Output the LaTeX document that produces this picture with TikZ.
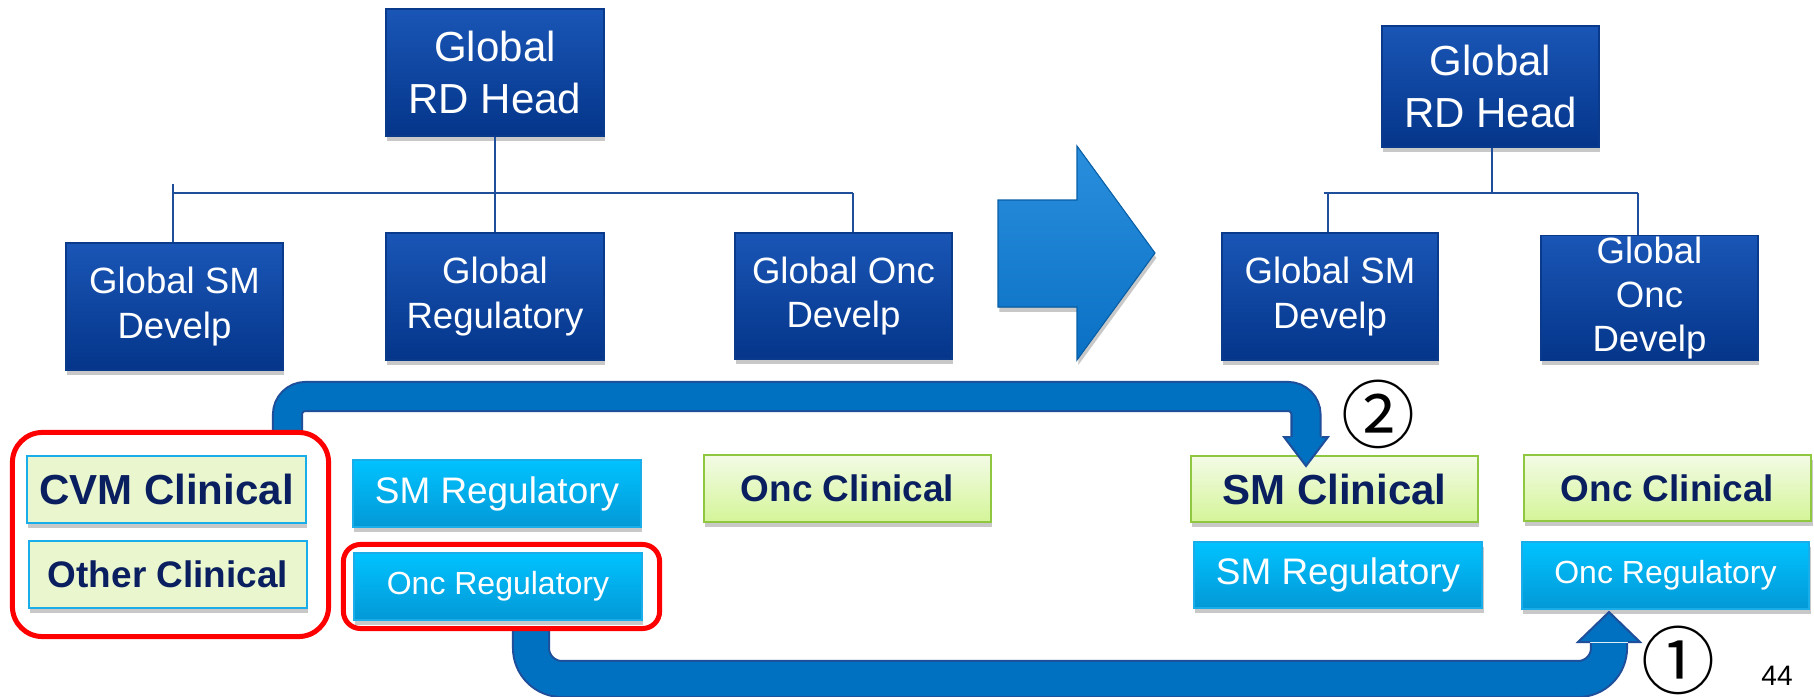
\documentclass[tikz,border=0pt]{standalone}
\usepackage{fontspec}
\setmainfont{Liberation Sans}
\newfontfamily\cjkfont{Noto Sans CJK JP}
\usetikzlibrary{shadows}
\definecolor{dkA}{HTML}{1A56B6}
\definecolor{dkB}{HTML}{04358A}
\definecolor{dkE}{HTML}{0A3A8C}
\definecolor{cyA}{HTML}{00C3FF}
\definecolor{cyB}{HTML}{0398D6}
\definecolor{cyE}{HTML}{19AEEA}
\definecolor{grA}{HTML}{F3FBE6}
\definecolor{grB}{HTML}{D4F598}
\definecolor{grE}{HTML}{8FC740}
\definecolor{pale}{HTML}{EAF6CE}
\definecolor{navy}{HTML}{0A1F5F}
\definecolor{band}{HTML}{0070C0}
\definecolor{bandE}{HTML}{1F4E9A}
\definecolor{linec}{HTML}{1F4E9A}
\definecolor{arrA}{HTML}{2A8FDD}
\definecolor{arrB}{HTML}{0A70C4}
\newcommand\headfont{\fontsize{11.95pt}{14.8pt}\selectfont}
\newcommand\devfont{\fontsize{10.4pt}{12.6pt}\selectfont}
\newcommand\bigbold{\fontsize{11.95pt}{14pt}\selectfont\bfseries}
\newcommand\midbold{\fontsize{10.5pt}{12pt}\selectfont\bfseries}
\newcommand\regfont{\fontsize{10.5pt}{12pt}\selectfont}
\newcommand\oncregfont{\fontsize{9.1pt}{11pt}\selectfont}
\begin{document}
\begin{tikzpicture}[x=0.01cm,y=-0.01cm,
  shad/.style={drop shadow={shadow xshift=0.4pt,shadow yshift=-1.4pt,opacity=0.3,fill=black!70}},
  dkbox/.style={shad,top color=dkA,bottom color=dkB,draw=dkE,line width=0.4pt,inner sep=0pt,align=center,text=white},
  cybox/.style={shad,top color=cyA,bottom color=cyB,draw=cyE,line width=0.6pt,inner sep=0pt,align=center,text=white},
  grbox/.style={shad,top color=grA,bottom color=grB,draw=grE,line width=0.7pt,inner sep=0pt,align=center,text=navy},
  palebox/.style={shad,fill=pale,draw=cyE,line width=0.7pt,inner sep=0pt,align=center,text=navy},
  conn/.style={draw=linec,line width=0.6pt},
  redbox/.style={draw=red,line width=0.05cm,inner sep=0pt},
  bandpath/.style={draw=bandE,line width=0.02cm,double=band},
  bandhead/.style={fill=band,draw=bandE,line width=0.02cm,line join=miter},
  circnum/.style={font=\cjkfont\fontsize{21pt}{21pt}\selectfont,inner sep=0pt}
]
\useasboundingbox[fill=white] (0,0) rectangle (1814,697);

% ---- left tree
\node[dkbox,minimum width=2.18cm,minimum height=1.27cm,font=\headfont] (H1) at (495,72.5) {Global\\RD Head};
\node[dkbox,minimum width=2.17cm,minimum height=1.27cm,font=\devfont] (L1) at (174.5,306.5) {Global SM\\Develp};
\node[dkbox,minimum width=2.18cm,minimum height=1.27cm,font=\devfont] (L2) at (495,296.5) {Global\\Regulatory};
\node[dkbox,minimum width=2.17cm,minimum height=1.26cm,font=\devfont] (L3) at (843.5,296) {Global Onc\\Develp};
\coordinate (busL) at (173,193);
\coordinate (busR) at (853,193);
\draw[conn] (H1.south) -- (L2.north);
\draw[conn] (busL) -- (busR);
\draw[conn] (busL |- 0,184) -- (busL |- L1.north);
\draw[conn] (busR) -- (busR |- L3.north);

% ---- big arrow
\filldraw[shad,top color=arrA,bottom color=arrB,draw=arrB!85!black,line width=0.3pt]
  (998,200) -- (1077,200) -- (1077,146) -- (1155,253) -- (1077,360) -- (1077,307) -- (998,307) -- cycle;

% ---- right tree
\node[dkbox,minimum width=2.17cm,minimum height=1.21cm,font=\headfont] (H2) at (1490.5,86.5) {Global\\RD Head};
\node[dkbox,minimum width=2.16cm,minimum height=1.27cm,font=\devfont] (R1) at (1330,296.5) {Global SM\\Develp};
\node[dkbox,minimum width=2.17cm,minimum height=1.25cm,font=\devfont] (R2) at (1649.5,298) {Global\\Onc\\Develp};
\coordinate (busL2) at (1328,193);
\coordinate (busR2) at (1638,193);
\draw[conn] (H2.south -| 1492,0) -- (1492,193);
\draw[conn] (1324,193) -- (busR2);
\draw[conn] (busL2) -- (busL2 |- R1.north);
\draw[conn] (busR2) -- (busR2 |- R2.north);

% ---- bottom boxes
\node[palebox,minimum width=2.79cm,minimum height=0.67cm,font=\bigbold] (B1) at (166.5,489.5) {CVM Clinical};
\node[palebox,minimum width=2.78cm,minimum height=0.67cm,font=\midbold] (B2) at (168,574.5) {Other Clinical};
\node[cybox,minimum width=2.88cm,minimum height=0.67cm,font=\regfont] (B3) at (497,493.5) {SM Regulatory};
\node[cybox,minimum width=2.88cm,minimum height=0.67cm,font=\oncregfont] (B4) at (498,586.5) {Onc Regulatory};
\node[grbox,minimum width=2.87cm,minimum height=0.67cm,font=\midbold] (B5) at (847.5,488.5) {Onc Clinical};
\node[grbox,minimum width=2.87cm,minimum height=0.66cm,font=\bigbold] (B6) at (1334.5,489) {SM Clinical};
\node[cybox,minimum width=2.88cm,minimum height=0.66cm,font=\regfont] (B7) at (1338,575) {SM Regulatory};
\node[grbox,minimum width=2.87cm,minimum height=0.66cm,font=\midbold] (B8) at (1667.5,488) {Onc Clinical};
\node[cybox,minimum width=2.87cm,minimum height=0.67cm,font=\oncregfont] (B9) at (1665.5,575.5) {Onc Regulatory};

% ---- loop arrow 2 (top)
\coordinate (s2) at (287.5,434);
\coordinate (t2) at (1306,438);
\draw[bandpath,double distance=0.27cm,rounded corners=0.18cm]
  (s2) -- (287.5,396.5) -- (1306,396.5) -- (t2);
\filldraw[bandhead] (1290.5,437) -- (1284,437) -- (1306,466) -- (1328,437) -- (1321.5,437);

% ---- loop arrow 1 (bottom)
\coordinate (s1) at (531,627);
\coordinate (t1) at (1609,643);
\draw[bandpath,double distance=0.34cm,rounded corners=0.31cm]
  (s1) -- (531,679) -- (1609,679) -- (t1);
\filldraw[bandhead] (1590,642) -- (1578,642) -- (1609,612) -- (1640,642) -- (1628,642);

% ---- red frames
\node[redbox,rounded corners=0.30cm,minimum width=3.16cm,minimum height=2.04cm] (RA) at (170.5,534.5) {};
\node[redbox,rounded corners=0.17cm,minimum width=3.16cm,minimum height=0.84cm] (RB) at (501.5,586.5) {};

% ---- labels
\node[circnum] (c2) at (1378,414) {②};
\node[circnum] (c1) at (1678,660) {①};
\node[font=\fontsize{8pt}{9pt}\selectfont,inner sep=0pt] (pg) at (1777,676) {44};
\end{tikzpicture}
\end{document}
